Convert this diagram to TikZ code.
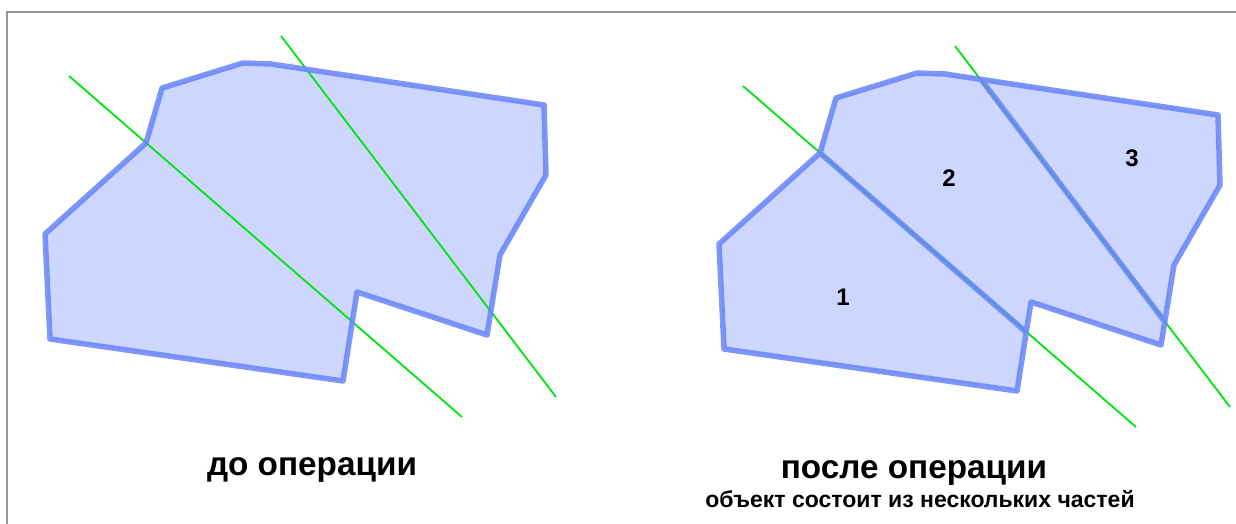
\documentclass[tikz,border=0pt]{standalone}
\usepackage{fontspec}
\setmainfont{Liberation Sans}
\usepackage{tikz}
\definecolor{partfill}{RGB}{204,214,255}
\definecolor{partline}{RGB}{104,132,248}
\definecolor{cutgreen}{RGB}{0,228,20}
\definecolor{framegray}{RGB}{150,150,150}
\tikzset{
  part/.style={fill=partfill},
  outline/.style={draw=partline, line width=5.5pt, line join=round,
                  draw opacity=0.85},
  cutline/.style={draw=cutgreen, line width=1.8pt},
  title/.style={font=\fontsize{33.3}{38}\selectfont\bfseries, anchor=base},
  subtitle/.style={font=\fontsize{23}{26}\selectfont\bfseries, anchor=base},
  num/.style={font=\fontsize{24}{28}\selectfont\bfseries}
}

\begin{document}
\begin{tikzpicture}[x=1pt, y=-1pt]
  \useasboundingbox (0,0) rectangle (1236,524);
  \draw[framegray, line width=1.5pt] (1236,12) -- (7,12) -- (7,524);

  % before: one object, two cutting lines
  \coordinate (la) at (146,143);
  \coordinate (lb) at (162,88);
  \coordinate (lc) at (243,63);
  \coordinate (ld) at (271,64);
  \coordinate (le) at (544,105);
  \coordinate (lf) at (546,175);
  \coordinate (lg) at (500,255);
  \coordinate (lh) at (487,335);
  \coordinate (li) at (357,292);
  \coordinate (lj) at (343,381);
  \coordinate (lk) at (50,339);
  \coordinate (ll) at (45,234);
  \coordinate (lcut1s) at (69,76);
  \coordinate (lcut1e) at (462,417);
  \coordinate (lcut2s) at (281,36);
  \coordinate (lcut2e) at (556,397);

  \fill[part] (la) -- (lb) -- (lc) -- (ld) -- (le) -- (lf) -- (lg) -- (lh)
    -- (li) -- (lj) -- (lk) -- (ll) -- cycle;
  \draw[cutline] (lcut1s) -- (lcut1e);
  \draw[cutline] (lcut2s) -- (lcut2e);
  \draw[outline] (la) -- (lb) -- (lc) -- (ld) -- (le) -- (lf) -- (lg) -- (lh)
    -- (li) -- (lj) -- (lk) -- (ll) -- cycle;

  \node[title] (before) at (312,475) {до операции};

  % after: the same object split into three parts
  \begin{scope}[shift={(674,10)}]
    \coordinate (ra) at (146,143);
    \coordinate (rb) at (162,88);
    \coordinate (rc) at (243,63);
    \coordinate (rd) at (271,64);
    \coordinate (re) at (544,105);
    \coordinate (rf) at (546,175);
    \coordinate (rg) at (500,255);
    \coordinate (rh) at (487,335);
    \coordinate (ri) at (357,292);
    \coordinate (rj) at (343,381);
    \coordinate (rk) at (50,339);
    \coordinate (rl) at (45,234);
    \coordinate (rp) at (352,322);
    \coordinate (rq) at (306,68);
    \coordinate (rs) at (491,312);
    \coordinate (rcut1s) at (69,76);
    \coordinate (rcut1e) at (462,417);
    \coordinate (rcut2s) at (281,36);
    \coordinate (rcut2e) at (556,397);
  \end{scope}

  \fill[part] (ra) -- (rp) -- (rj) -- (rk) -- (rl) -- cycle;
  \fill[part] (ra) -- (rb) -- (rc) -- (rd) -- (rq) -- (rs) -- (rh) -- (ri)
    -- (rp) -- cycle;
  \fill[part] (rq) -- (re) -- (rf) -- (rg) -- (rs) -- cycle;
  \draw[cutline] (rcut1s) -- (rcut1e);
  \draw[cutline] (rcut2s) -- (rcut2e);
  \draw[outline] (ra) -- (rb) -- (rc) -- (rd) -- (re) -- (rf) -- (rg) -- (rh)
    -- (ri) -- (rj) -- (rk) -- (rl) -- cycle
    (ra) -- (rp) (rq) -- (rs);

  \node[num] (part1) at (843,297) {1};
  \node[num] (part2) at (949,178) {2};
  \node[num] (part3) at (1132,158) {3};

  \node[title] (after) at (914,478) {после операции};
  \node[subtitle] (afternote) at (920,507) {объект состоит из нескольких частей};
\end{tikzpicture}
\end{document}
